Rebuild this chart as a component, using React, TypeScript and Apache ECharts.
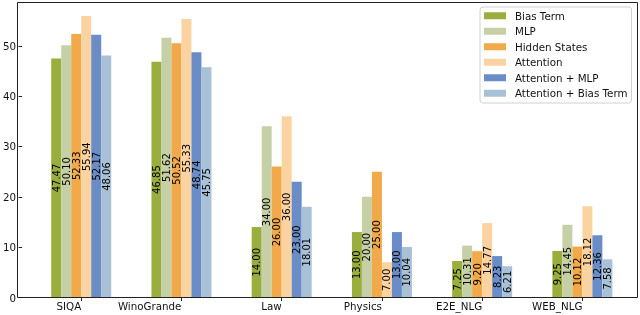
import React, { useEffect, useRef } from "react";
import * as echarts from "echarts";

const categories = ["SIQA", "WinoGrande", "Law", "Physics", "E2E_NLG", "WEB_NLG"];
const seriesNames = ["Bias Term", "MLP", "Hidden States", "Attention", "Attention + MLP", "Attention + Bias Term"];
const biasTerm = [47.47, 46.85, 14.0, 13.0, 7.25, 9.25];
const mlp = [50.1, 51.62, 34.0, 20.0, 10.31, 14.45];
const hiddenStates = [52.33, 50.52, 26.0, 25.0, 9.2, 10.12];
const attention = [55.94, 55.33, 36.0, 7.0, 14.77, 18.12];
const attentionMlp = [52.17, 48.74, 23.0, 13.0, 8.23, 12.36];
const attentionBias = [48.06, 45.75, 18.01, 10.04, 6.21, 7.58];
const yTicks = [0, 10, 20, 30, 40, 50];

const colors = ["#9aae3e", "#c6d0a6", "#f2a94a", "#fbd3a0", "#6a8dc8", "#a9c1d6"];
const FONT = "DejaVu Sans";

export default function App() {
  const ref = useRef<HTMLDivElement>(null);
  useEffect(() => {
    if (!ref.current) return;
    const chart = echarts.init(ref.current, undefined, { renderer: "svg" });
    const allData = [biasTerm, mlp, hiddenStates, attention, attentionMlp, attentionBias];
    chart.setOption({
      animation: false,
      textStyle: { fontFamily: FONT },
      grid: { left: 26.5, right: 7.5, top: 2.5, bottom: 17.5 },
      legend: {
        orient: "vertical",
        left: 480,
        top: 7,
        padding: [1, 4, 2, 4],
        itemGap: 0,
        itemWidth: 22,
        itemHeight: 7,
        icon: "rect",
        borderColor: "#d0d0d0",
        borderWidth: 1,
        borderRadius: 3,
        backgroundColor: "rgba(255,255,255,0.85)",
        textStyle: { fontFamily: FONT, fontSize: 10.3, color: "#111", lineHeight: 15.5, padding: [0, 0, 0, 4] },
        data: seriesNames,
      },
      xAxis: {
        type: "category",
        data: categories,
        axisLine: { show: false },
        axisTick: { show: true, alignWithLabel: true, length: 3.5, lineStyle: { color: "#222" } },
        axisLabel: { align: "right", margin: 3, fontFamily: FONT, fontSize: 10.3, color: "#111" },
      },
      yAxis: {
        type: "value",
        min: 0,
        max: 58.6,
        interval: 10,
        offset: 9,
        splitLine: { show: false },
        axisLine: { show: false },
        axisTick: { show: true, length: 3.5, customValues: yTicks, lineStyle: { color: "#222" } },
        axisLabel: { customValues: yTicks, margin: 6, fontFamily: FONT, fontSize: 10.3, color: "#111" },
      },
      graphic: [
        {
          type: "rect",
          shape: { x: 17.5, y: 2.5, width: 620, height: 295 },
          style: { fill: "none", stroke: "#222", lineWidth: 1 },
          z: 100,
        },
      ],
      series: seriesNames.map((name, i) => ({
        name,
        type: "bar",
        data: allData[i],
        barWidth: 10,
        barGap: "0%",
        itemStyle: { color: colors[i] },
        label: {
          show: true,
          position: "inside",
          rotate: 90,
          fontFamily: FONT,
          fontSize: 10,
          color: "#000",
          formatter: (p: any) => Number(p.value).toFixed(2),
        },
      })),
    });
    return () => chart.dispose();
  }, []);
  return <div ref={ref} style={{ position: "fixed", left: 0, top: 0, width: 640, height: 315 }} />;
}
